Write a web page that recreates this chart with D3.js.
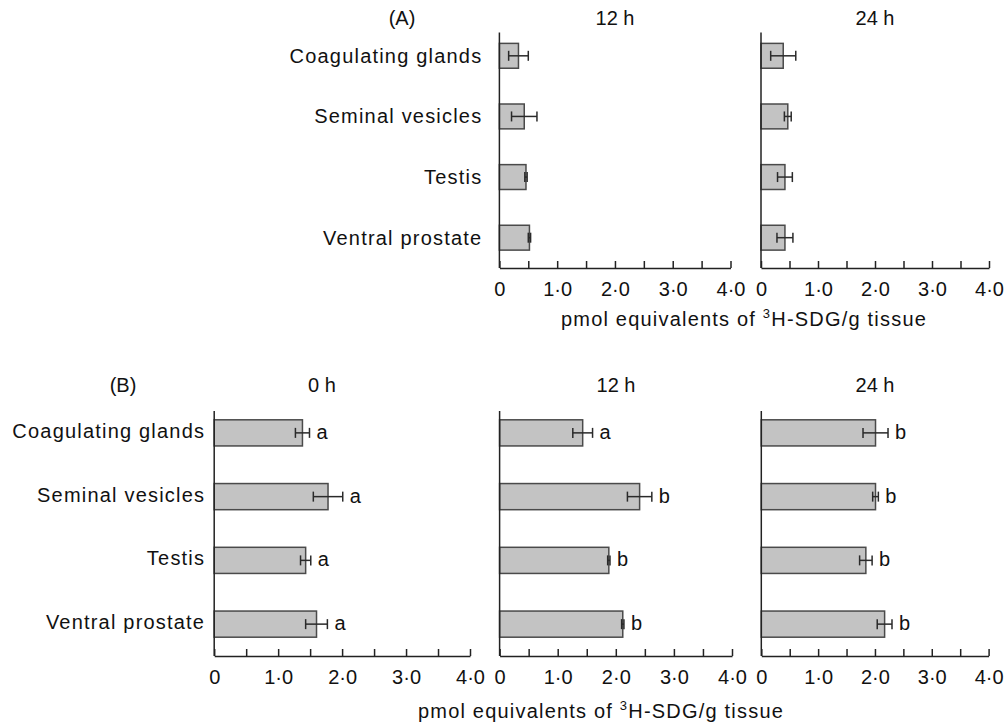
<!DOCTYPE html>
<html>
<head>
<meta charset="utf-8">
<script src="https://cdn.jsdelivr.net/npm/d3@7"></script>
<style>
body { margin: 0; background: #fff; }
text { font-family: "Liberation Sans", Arial, sans-serif; fill: #111; }
</style>
</head>
<body>
<div id="chart"></div>
<script>
// tissues, top to bottom
var categories = ["Coagulating glands", "Seminal vesicles", "Testis", "Ventral prostate"];
var tickValues = [0, 0.5, 1, 1.5, 2, 2.5, 3, 3.5, 4];

// (A) panels
var a12Values = [0.33, 0.43, 0.46, 0.52];
var a12Errors = [0.17, 0.22, 0.02, 0.02];
var a24Values = [0.39, 0.47, 0.42, 0.42];
var a24Errors = [0.22, 0.06, 0.13, 0.14];

// (B) panels
var b0Values = [1.38, 1.78, 1.43, 1.60];
var b0Errors = [0.11, 0.23, 0.08, 0.17];
var b0Letters = ["a", "a", "a", "a"];
var b12Values = [1.43, 2.41, 1.88, 2.12];
var b12Errors = [0.17, 0.21, 0.02, 0.02];
var b12Letters = ["a", "b", "b", "b"];
var b24Values = [2.01, 2.01, 1.84, 2.17];
var b24Errors = [0.22, 0.05, 0.11, 0.13];
var b24Letters = ["b", "b", "b", "b"];

var width = 1005, height = 727;
var svg = d3.select("#chart").append("svg")
    .attr("width", width)
    .attr("height", height);

var rows = {
  A: {top: 25.5, axisY: 268, lineTop: 32.5, labelDy: 7, titleY: 25, tag: "(A)", tagX: 402,
      axisTitleX: 744, axisTitleY: 326},
  B: {top: 401, axisY: 656, lineTop: 411, labelDy: 5, titleY: 392, tag: "(B)", tagX: 123,
      axisTitleX: 601, axisTitleY: 718}
};

var panels = [
  {row: "A", x0: 499.4, x4: 730.5, title: "12 h", titleX: 615, values: a12Values, errors: a12Errors, labelGap: 17},
  {row: "A", x0: 761, x4: 989, title: "24 h", titleX: 875, values: a24Values, errors: a24Errors},
  {row: "B", x0: 214.2, x4: 470, title: "0 h", titleX: 322, values: b0Values, errors: b0Errors, letters: b0Letters, labelGap: 9},
  {row: "B", x0: 499.6, x4: 732, title: "12 h", titleX: 616, values: b12Values, errors: b12Errors, letters: b12Letters},
  {row: "B", x0: 761.3, x4: 988.6, title: "24 h", titleX: 875, values: b24Values, errors: b24Errors, letters: b24Letters}
];

var fmt = function(d) {
  if (d % 1 !== 0) return "";
  return d === 0 ? "0" : d.toFixed(1).replace(".", "\u00b7");
};

function drawPanel(p) {
  var r = rows[p.row];
  var x = d3.scaleLinear().domain([0, 4]).range([p.x0, p.x4]);
  var y = d3.scaleBand().domain(categories).range([r.top, r.axisY])
      .paddingInner(0.59).paddingOuter(0.295);
  var g = svg.append("g");

  var data = categories.map(function(c, i) {
    return {cat: c, v: p.values[i], e: p.errors[i], letter: p.letters ? p.letters[i] : null};
  });

  g.selectAll("rect.bar").data(data).enter().append("rect")
      .attr("class", "bar")
      .attr("x", x(0))
      .attr("y", function(d) { return y(d.cat); })
      .attr("width", function(d) { return x(d.v) - x(0); })
      .attr("height", y.bandwidth())
      .attr("fill", "#c3c3c3")
      .attr("stroke", "#4a4a4a")
      .attr("stroke-width", 1.5);

  // error bars
  var eb = g.selectAll("g.err").data(data).enter().append("g")
      .attr("class", "err")
      .attr("stroke", "#2a2a2a")
      .attr("stroke-width", 1.5);
  eb.append("line")
      .attr("x1", function(d) { return x(d.v - d.e); })
      .attr("x2", function(d) { return x(d.v + d.e); })
      .attr("y1", function(d) { return y(d.cat) + y.bandwidth() / 2; })
      .attr("y2", function(d) { return y(d.cat) + y.bandwidth() / 2; });
  [-1, 1].forEach(function(s) {
    eb.append("line")
        .attr("x1", function(d) { return x(d.v + s * d.e); })
        .attr("x2", function(d) { return x(d.v + s * d.e); })
        .attr("y1", function(d) { return y(d.cat) + y.bandwidth() / 2 - 5; })
        .attr("y2", function(d) { return y(d.cat) + y.bandwidth() / 2 + 5; });
  });

  if (p.letters) {
    g.selectAll("text.letter").data(data).enter().append("text")
        .attr("class", "letter")
        .attr("x", function(d) { return x(d.v + d.e) + 7; })
        .attr("y", function(d) { return y(d.cat) + y.bandwidth() / 2 + 6; })
        .attr("font-size", 20)
        .text(function(d) { return d.letter; });
  }

  // x axis, ticks pointing up
  var ax = g.append("g")
      .attr("transform", "translate(0," + r.axisY + ")")
      .call(d3.axisBottom(x).tickValues(tickValues).tickSizeInner(-7).tickSizeOuter(0)
            .tickPadding(14).tickFormat(fmt));
  ax.attr("font-size", 20).attr("font-family", null).attr("color", "#222");
  ax.selectAll("path, line").attr("stroke-width", 1.5);

  // y axis line
  g.append("line")
      .attr("x1", p.x0).attr("x2", p.x0)
      .attr("y1", r.lineTop).attr("y2", r.axisY)
      .attr("stroke", "#222").attr("stroke-width", 1.5);

  if (p.labelGap) {
    g.selectAll("text.cat").data(categories).enter().append("text")
        .attr("class", "cat")
        .attr("x", p.x0 - p.labelGap)
        .attr("y", function(d) { return y(d) + y.bandwidth() / 2 + r.labelDy; })
        .attr("text-anchor", "end")
        .attr("font-size", 20)
        .attr("letter-spacing", 1.2)
        .text(function(d) { return d; });
  }

  g.append("text")
      .attr("x", p.titleX).attr("y", r.titleY)
      .attr("text-anchor", "middle")
      .attr("font-size", 20)
      .text(p.title);
}

panels.forEach(drawPanel);

Object.keys(rows).forEach(function(k) {
  var r = rows[k];
  svg.append("text")
      .attr("x", r.tagX).attr("y", r.titleY)
      .attr("text-anchor", "middle")
      .attr("font-size", 20)
      .text(r.tag);

  var t = svg.append("text")
      .attr("x", r.axisTitleX).attr("y", r.axisTitleY)
      .attr("text-anchor", "middle")
      .attr("font-size", 20)
      .attr("letter-spacing", 1.2);
  t.append("tspan").text("pmol equivalents of ");
  t.append("tspan").attr("font-size", 13).attr("dy", -8).text("3");
  t.append("tspan").attr("dy", 8).text("H-SDG/g tissue");
});
</script>
</body>
</html>
